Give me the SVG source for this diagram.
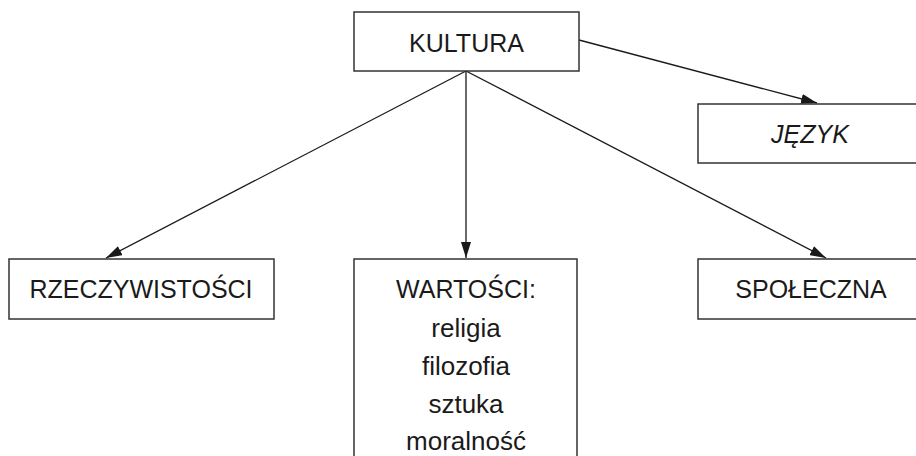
<svg xmlns="http://www.w3.org/2000/svg" width="916" height="456" viewBox="0 0 916 456">
<style>
.box{fill:#fff;stroke:#333;stroke-width:1.5}
.t{font-family:"Liberation Sans",Arial,sans-serif;font-size:25px;fill:#1a1a1a;text-anchor:middle}
.lc{font-size:26px}
.it{font-style:italic}
.c{stroke:#1a1a1a;stroke-width:1.3;fill:none;marker-end:url(#ah)}
</style>
<defs>
<marker id="ah" viewBox="0 0 16 10" refX="16" refY="5" markerWidth="16" markerHeight="10" markerUnits="userSpaceOnUse" orient="auto">
<path d="M0,0 L16,5 L0,10 Z" fill="#1a1a1a"/>
</marker>
</defs>
<rect width="916" height="456" fill="#fff"/>
<g id="connectors">
<line class="c" x1="579" y1="40" x2="817" y2="103"/>
<line class="c" x1="466" y1="71" x2="106" y2="258"/>
<line class="c" x1="466" y1="71" x2="466" y2="258"/>
<line class="c" x1="466" y1="71" x2="826" y2="258"/>
</g>
<g id="kultura">
<rect class="box" x="354" y="12" width="225" height="59"/>
<text class="t" x="466.5" y="52">KULTURA</text>
</g>
<g id="jezyk">
<rect class="box" x="698" y="104" width="230" height="59"/>
<text class="t it" x="810" y="143">JĘZYK</text>
</g>
<g id="rzeczywistosci">
<rect class="box" x="9" y="259" width="265" height="60"/>
<text class="t" x="141" y="298">RZECZYWISTOŚCI</text>
</g>
<g id="wartosci">
<rect class="box" x="354" y="259" width="223" height="210"/>
<text class="t" x="466" y="298">WARTOŚCI:</text>
<text class="t lc" x="466" y="337">religia</text>
<text class="t lc" x="466" y="375">filozofia</text>
<text class="t lc" x="466" y="413">sztuka</text>
<text class="t lc" x="466" y="450">moralność</text>
</g>
<g id="spoleczna">
<rect class="box" x="698" y="259" width="230" height="60"/>
<text class="t" x="811" y="298">SPOŁECZNA</text>
</g>
</svg>
